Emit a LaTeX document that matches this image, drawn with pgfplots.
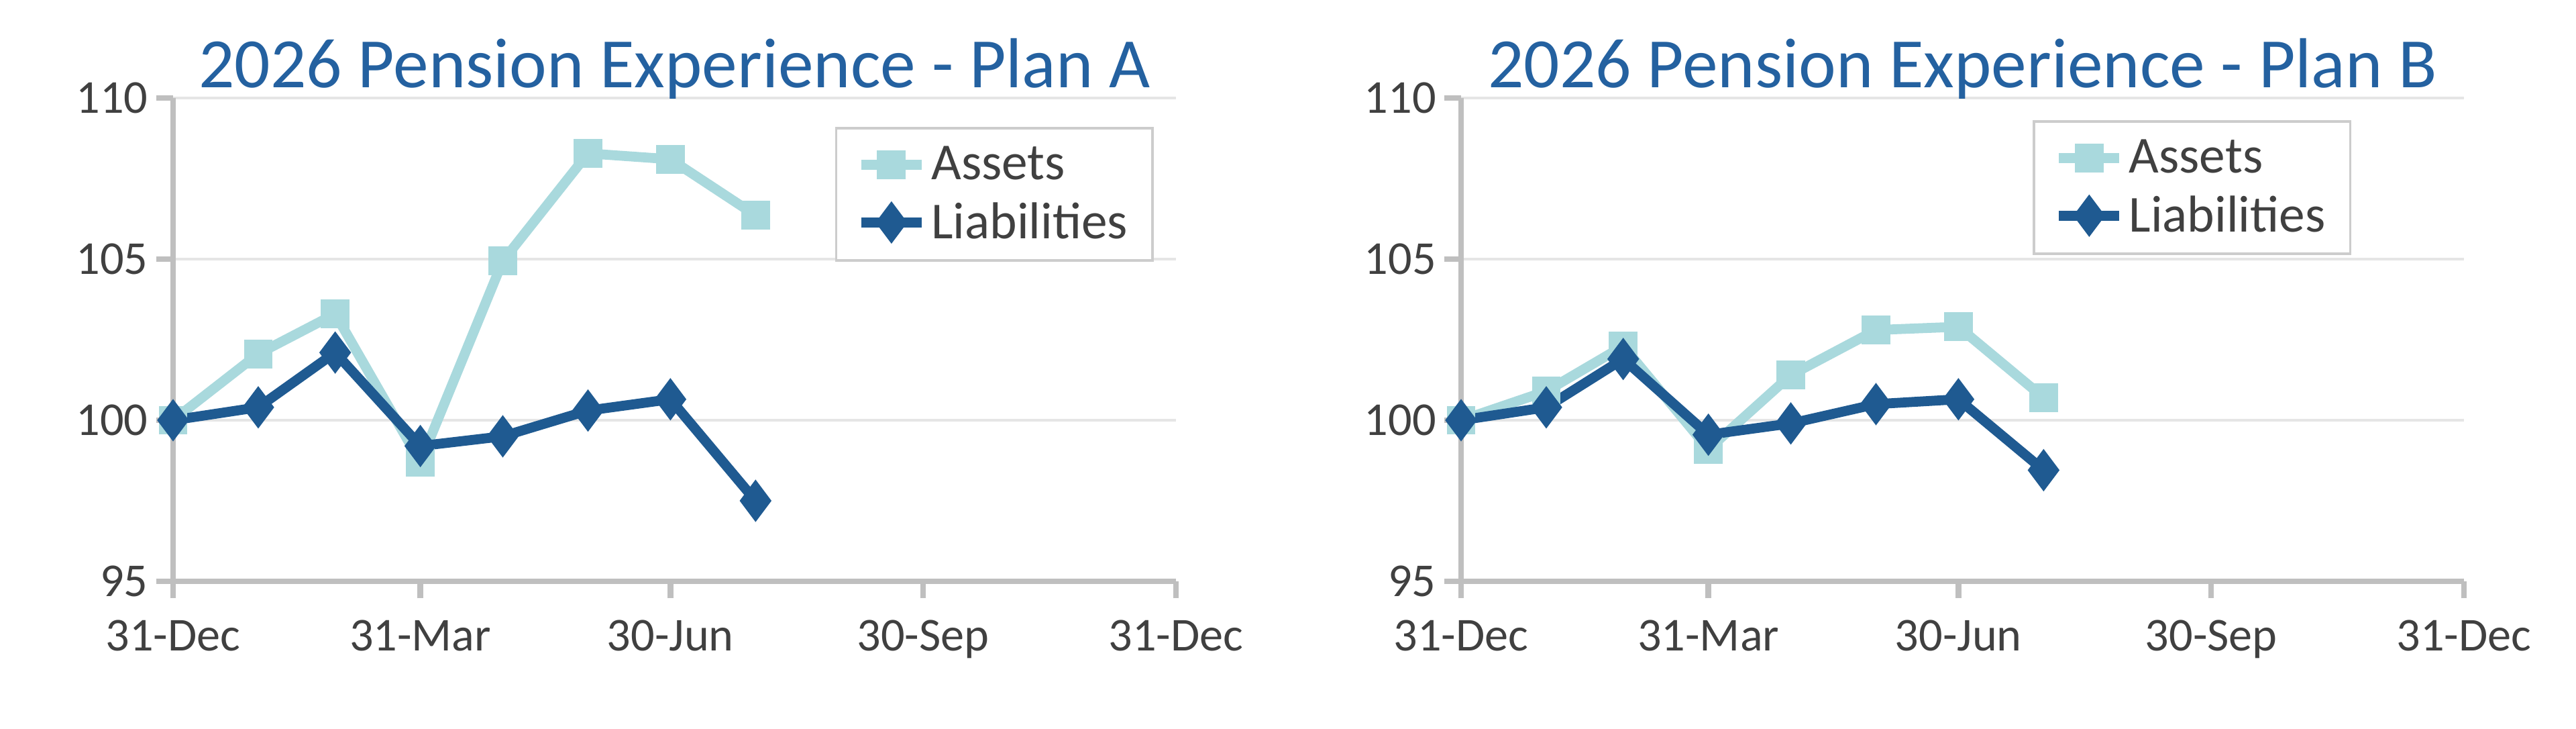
\documentclass[border=0pt]{standalone}
\usepackage{pgfplots}
\pgfplotsset{compat=1.18}
\usepackage{fontspec}
\setmainfont{Carlito}
\definecolor{assetc}{HTML}{A9D9DD}
\definecolor{liabc}{HTML}{1F5A91}
\definecolor{titlec}{HTML}{2461A0}
\definecolor{axc}{HTML}{BFBFBF}
\definecolor{txtc}{HTML}{404040}
\pgfplotsset{
  pp/.style={
    scale only axis, width=14.95cm, height=7.2cm,
    xmin=0, xmax=365, ymin=95, ymax=110,
    xtick={0,90,181,273,365},
    xticklabels={31-Dec,31-Mar,30-Jun,30-Sep,31-Dec},
    ytick={95,100,105,110},
    ymajorgrids, grid style={draw=black!10, line width=1.2pt},
    axis x line*=bottom, axis y line*=left,
    x axis line style={draw=axc, line width=2.4pt, -},
    y axis line style={draw=axc, line width=2.4pt, -},
    tick style={draw=axc, line width=2.4pt},
    major tick length=0.25cm, tick align=outside,
    ticklabel style={font=\fontsize{20}{22}\selectfont, text=txtc},
    /pgf/number format/assume math mode=true,
    xticklabel style={yshift=-0.2cm},
    title style={font=\fontsize{30}{34}\selectfont, text=titlec, yshift=-0.35cm},
    legend style={draw=black!20, line width=1pt, font=\fontsize{22}{26}\selectfont, text=txtc,
      row sep=0.15cm, inner xsep=0.3cm, inner ysep=0.2cm},
    legend image code/.code={\draw[#1] (0cm,0cm) -- (0.9cm,0cm); \draw[#1, only marks] plot coordinates {(0.45cm,0cm)};},
    legend cell align=left,
    clip=false,
  },
  as/.style={color=assetc, line width=4.2pt, mark=square*, mark size=4pt},
  li/.style={color=liabc, line width=4.2pt, mark=diamond*, mark size=5.5pt},
}
\begin{document}
\begin{tikzpicture}
\path[use as bounding box] (0,0) rectangle (38.4,10.85);
\begin{axis}[pp, at={(2.58cm,2.19cm)}, title={2026 Pension Experience - Plan A},
  legend style={at={(0.66,0.94)}, anchor=north west}]
\addplot[as] coordinates {(0,100) (31,102.06) (59,103.3) (90,98.7) (120,104.94) (151,108.28) (181,108.1) (212,106.36)};
\addlegendentry{Assets}
\addplot[li] coordinates {(0,100) (31,100.4) (59,102.1) (90,99.2) (120,99.5) (151,100.3) (181,100.65) (212,97.5)};
\addlegendentry{Liabilities}
\end{axis}
\begin{axis}[pp, at={(21.78cm,2.19cm)}, title={2026 Pension Experience - Plan B},
  legend style={at={(0.57,0.954)}, anchor=north west}]
\addplot[as] coordinates {(0,100) (31,100.9) (59,102.3) (90,99.1) (120,101.4) (151,102.8) (181,102.9) (212,100.7)};
\addlegendentry{Assets}
\addplot[li] coordinates {(0,100) (31,100.4) (59,101.9) (90,99.55) (120,99.9) (151,100.5) (181,100.65) (212,98.45)};
\addlegendentry{Liabilities}
\end{axis}
\end{tikzpicture}
\end{document}
